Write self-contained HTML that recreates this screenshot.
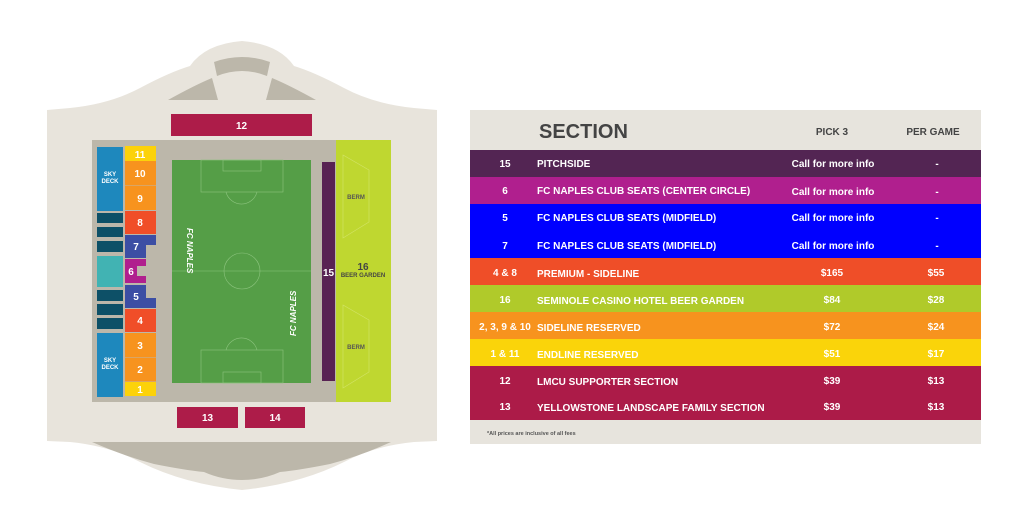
<!DOCTYPE html>
<html><head><meta charset="utf-8"><style>
html,body{margin:0;padding:0;background:#fff;width:1022px;height:532px;overflow:hidden}
svg{position:absolute;left:0;top:0}
text{font-family:"Liberation Sans",sans-serif;font-weight:bold}
</style></head><body>
<svg width="1022" height="532" viewBox="0 0 1022 532" xmlns="http://www.w3.org/2000/svg">
<path d="M47 110 L70 108 Q110 104 140 88 Q170 72 190 66 Q205 44 242 41 Q279 44 294 66 Q314 72 344 88 Q374 104 414 108 L437 110 L437 441 L414 442 Q374 446 344 462 Q300 484 242 490 Q184 484 140 462 Q110 446 70 442 L47 441 Z" fill="#e8e4dc"/>
<path d="M168 100 Q195 85 212 78 L218 100 Z" fill="#bcb7aa"/>
<path d="M316 100 Q289 85 272 78 L266 100 Z" fill="#bcb7aa"/>
<path d="M214 62 Q242 52 270 62 L267 76 Q242 66 217 76 Z" fill="#bcb7aa"/>
<path d="M92 442 L391 442 Q360 456 330 464 Q300 470 280 472 Q262 480 242 480 Q222 480 204 472 Q184 470 154 464 Q124 456 92 442 Z" fill="#bcb7aa"/>
<rect x="92" y="140" width="244" height="262" fill="#bcb7aa"/>
<rect x="336" y="140" width="55" height="262" fill="#bfd730"/>
<path d="M343 155 L369 170 L369 222 L343 238 Z" fill="none" stroke="#d3e46a" stroke-width="0.6"/>
<path d="M343 305 L369 320 L369 372 L343 388 Z" fill="none" stroke="#d3e46a" stroke-width="0.6"/>
<text x="356" y="199" font-size="6" fill="#555" text-anchor="middle">BERM</text>
<text x="356" y="349" font-size="6" fill="#555" text-anchor="middle">BERM</text>
<text x="363" y="270" font-size="10" fill="#444" text-anchor="middle">16</text>
<text x="363" y="277" font-size="6" fill="#444" text-anchor="middle">BEER GARDEN</text>
<rect x="172" y="160" width="139" height="223" fill="#559e47"/>
<g fill="none" stroke="#8cc47e" stroke-width="0.6">
<rect x="201" y="160" width="82" height="32"/>
<rect x="223" y="160" width="38" height="11"/>
<path d="M226 192 A16 16 0 0 0 257 192"/>
<line x1="172" y1="271" x2="311" y2="271"/>
<circle cx="242" cy="271" r="18"/>
<rect x="201" y="350" width="82" height="33"/>
<rect x="223" y="372" width="38" height="11"/>
<path d="M226 350 A16 16 0 0 1 257 350"/>
</g>
<text transform="translate(187,228) rotate(90)" font-size="8" fill="#fff" font-style="italic">FC NAPLES</text>
<text transform="translate(296,298) rotate(-90) translate(-38,0)" font-size="8" fill="#fff" font-style="italic">FC NAPLES</text>
<rect x="322" y="162" width="13" height="219" fill="#582253"/>
<text x="328.5" y="276" font-size="10" fill="#fff" text-anchor="middle">15</text>
<rect x="171" y="114" width="141" height="22" fill="#ad1c49"/>
<text x="241.5" y="129" font-size="10" fill="#fff" text-anchor="middle">12</text>
<rect x="177" y="407" width="61" height="21" fill="#ad1c49"/>
<text x="207.5" y="421" font-size="10" fill="#fff" text-anchor="middle">13</text>
<rect x="245" y="407" width="60" height="21" fill="#ad1c49"/>
<text x="275" y="421" font-size="10" fill="#fff" text-anchor="middle">14</text>
<rect x="97" y="147" width="26" height="64" fill="#1e88bd"/>
<text x="110" y="176" font-size="6" fill="#fff" text-anchor="middle">SKY</text>
<text x="110" y="183" font-size="6" fill="#fff" text-anchor="middle">DECK</text>
<rect x="97" y="333" width="26" height="64" fill="#1e88bd"/>
<text x="110" y="362" font-size="6" fill="#fff" text-anchor="middle">SKY</text>
<text x="110" y="369" font-size="6" fill="#fff" text-anchor="middle">DECK</text>
<g fill="#0d5067">
<rect x="97" y="213" width="26" height="10"/><rect x="97" y="227" width="26" height="10"/><rect x="97" y="241" width="26" height="11"/>
<rect x="97" y="290" width="26" height="11"/><rect x="97" y="304" width="26" height="11"/><rect x="97" y="318" width="26" height="11"/>
</g>
<rect x="97" y="256" width="26" height="31" fill="#41b3b3"/>
<rect x="125" y="146" width="31" height="15" fill="#fcd20a"/>
<rect x="125" y="161" width="31" height="24" fill="#f7931e"/>
<rect x="125" y="185.5" width="31" height="24.5" fill="#f7931e"/>
<rect x="125" y="211" width="31" height="23" fill="#f04e28"/>
<path d="M125 235 L156 235 L156 245 L146 245 L146 258 L125 258 Z" fill="#3c4ea4"/>
<path d="M125 259 L146 259 L146 266 L137 266 L137 276 L146 276 L146 283 L125 283 Z" fill="#b01f8e"/>
<path d="M125 285 L146 285 L146 298 L156 298 L156 308 L125 308 Z" fill="#3c4ea4"/>
<rect x="125" y="309" width="31" height="23" fill="#f04e28"/>
<rect x="125" y="333" width="31" height="24" fill="#f7931e"/>
<rect x="125" y="357.5" width="31" height="24" fill="#f7931e"/>
<rect x="125" y="382" width="31" height="14" fill="#fcd20a"/>
<g font-size="10" fill="#fff" text-anchor="middle">
<text x="140" y="158">11</text><text x="140" y="177">10</text><text x="140" y="202">9</text>
<text x="140" y="226">8</text><text x="136" y="250">7</text><text x="131" y="275">6</text>
<text x="136" y="300">5</text><text x="140" y="324">4</text><text x="140" y="349">3</text>
<text x="140" y="373">2</text><text x="140" y="393">1</text>
</g>
<rect x="470" y="110" width="511" height="334" fill="#e7e4dd"/>
<text x="539" y="138" font-size="20" fill="#444">SECTION</text>
<text x="832" y="135" font-size="10" fill="#444" text-anchor="middle" font-weight="normal">PICK 3</text>
<text x="933" y="135" font-size="10" fill="#444" text-anchor="middle" font-weight="normal">PER GAME</text>
<rect x="470" y="150" width="511" height="27" fill="#532553"/>
<rect x="470" y="177" width="511" height="27" fill="#b01f8e"/>
<rect x="470" y="204" width="511" height="54" fill="#0000ff"/>
<rect x="470" y="258" width="511" height="27" fill="#ef4e28"/>
<rect x="470" y="285" width="511" height="27" fill="#b0ca2a"/>
<rect x="470" y="312" width="511" height="27" fill="#f7931e"/>
<rect x="470" y="339" width="511" height="27" fill="#fad40a"/>
<rect x="470" y="366" width="511" height="54" fill="#ac1b48"/>
<g font-size="10" fill="#fff">
<g text-anchor="middle" font-weight="normal">
<text x="505" y="167">15</text><text x="505" y="194">6</text><text x="505" y="221">5</text><text x="505" y="249">7</text>
<text x="505" y="276">4 &amp; 8</text><text x="505" y="303">16</text><text x="505" y="330">2, 3, 9 &amp; 10</text>
<text x="505" y="357">1 &amp; 11</text><text x="505" y="384">12</text><text x="505" y="410">13</text>
</g>
<text x="537" y="167">PITCHSIDE</text>
<text x="537" y="194">FC NAPLES CLUB SEATS (CENTER CIRCLE)</text>
<text x="537" y="221">FC NAPLES CLUB SEATS (MIDFIELD)</text>
<text x="537" y="249">FC NAPLES CLUB SEATS (MIDFIELD)</text>
<text x="537" y="277">PREMIUM - SIDELINE</text>
<text x="537" y="304">SEMINOLE CASINO HOTEL BEER GARDEN</text>
<text x="537" y="331">SIDELINE RESERVED</text>
<text x="537" y="358">ENDLINE RESERVED</text>
<text x="537" y="385">LMCU SUPPORTER SECTION</text>
<text x="537" y="411">YELLOWSTONE LANDSCAPE FAMILY SECTION</text>
<g text-anchor="middle">
<text x="833" y="167">Call for more info</text><text x="833" y="195">Call for more info</text>
<text x="833" y="221">Call for more info</text><text x="833" y="249">Call for more info</text>
<text x="832" y="276">$165</text><text x="832" y="303">$84</text><text x="832" y="330">$72</text>
<text x="832" y="357">$51</text><text x="832" y="384">$39</text><text x="832" y="410">$39</text>
<text x="937" y="167">-</text><text x="937" y="195">-</text><text x="937" y="221">-</text><text x="937" y="249">-</text>
<text x="936" y="276">$55</text><text x="936" y="303">$28</text><text x="936" y="330">$24</text>
<text x="936" y="357">$17</text><text x="936" y="384">$13</text><text x="936" y="410">$13</text>
</g>
</g>
<text x="487" y="435" font-size="5.5" fill="#555" font-weight="normal">*All prices are inclusive of all fees</text>
</svg>
</body></html>
